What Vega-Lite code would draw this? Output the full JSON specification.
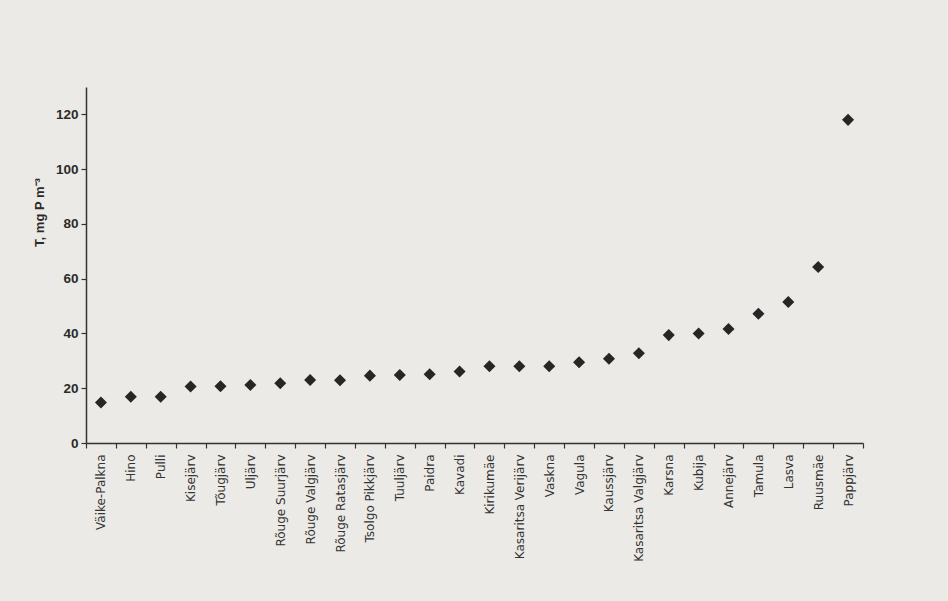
{
  "$schema": "https://vega.github.io/schema/vega-lite/v6.json",
  "autosize": {"type": "none"},
  "padding": {"left": 86, "top": 87, "right": 85, "bottom": 158},
  "width": 777,
  "height": 356,
  "background": "#ebeae6",
  "data": {
    "values": [
      {"lake": "Väike-Palkna", "tp": 14.8},
      {"lake": "Hino", "tp": 16.9},
      {"lake": "Pulli", "tp": 16.9},
      {"lake": "Kisejärv", "tp": 20.6},
      {"lake": "Tõugjärv", "tp": 20.7},
      {"lake": "Uljärv", "tp": 21.2},
      {"lake": "Rõuge Suurjärv", "tp": 21.8},
      {"lake": "Rõuge Valgjärv", "tp": 23.0},
      {"lake": "Rõuge Ratasjärv", "tp": 22.9},
      {"lake": "Tsolgo Pikkjärv", "tp": 24.6},
      {"lake": "Tuuljärv", "tp": 24.8},
      {"lake": "Paidra", "tp": 25.1},
      {"lake": "Kavadi", "tp": 26.1},
      {"lake": "Kirikumäe", "tp": 28.0},
      {"lake": "Kasaritsa Verijärv", "tp": 28.0},
      {"lake": "Vaskna", "tp": 28.0},
      {"lake": "Vagula", "tp": 29.5},
      {"lake": "Kaussjärv", "tp": 30.8},
      {"lake": "Kasaritsa Valgjärv", "tp": 32.8},
      {"lake": "Karsna", "tp": 39.4},
      {"lake": "Kubija", "tp": 40.0},
      {"lake": "Annejärv", "tp": 41.6},
      {"lake": "Tamula", "tp": 47.2},
      {"lake": "Lasva", "tp": 51.5},
      {"lake": "Ruusmäe", "tp": 64.3},
      {"lake": "Pappjärv", "tp": 118.0}
    ]
  },
  "mark": {"type": "point", "shape": "diamond", "filled": true, "size": 145, "color": "#262626", "opacity": 1},
  "encoding": {
    "x": {
      "field": "lake",
      "type": "nominal",
      "sort": null,
      "scale": {"paddingInner": 0, "paddingOuter": 0},
      "axis": {
        "title": null,
        "tickBand": "extent",
        "labelAngle": -90,
        "labelFont": "DejaVu Sans",
        "labelFontSize": 12,
        "labelColor": "#333333",
        "labelPadding": 6,
        "tickSize": 5,
        "tickColor": "#333333",
        "domainColor": "#333333",
        "domainWidth": 1.5,
        "tickWidth": 1.2
      }
    },
    "y": {
      "field": "tp",
      "type": "quantitative",
      "scale": {"domain": [0, 130], "nice": false},
      "axis": {
        "title": "T, mg P m⁻³",
        "titleFont": "Liberation Sans",
        "titleFontSize": 13,
        "titleFontWeight": "bold",
        "titleColor": "#2a2a2a",
        "titleY": 125,
        "titleX": -40,
        "values": [0, 20, 40, 60, 80, 100, 120],
        "grid": false,
        "labelFont": "Liberation Sans",
        "labelFontSize": 13.5,
        "labelFontWeight": "bold",
        "labelColor": "#2a2a2a",
        "labelPadding": 3,
        "tickSize": 5,
        "tickColor": "#333333",
        "domainColor": "#333333",
        "domainWidth": 1.5,
        "tickWidth": 1.2
      }
    }
  },
  "config": {"view": {"stroke": null}}
}
